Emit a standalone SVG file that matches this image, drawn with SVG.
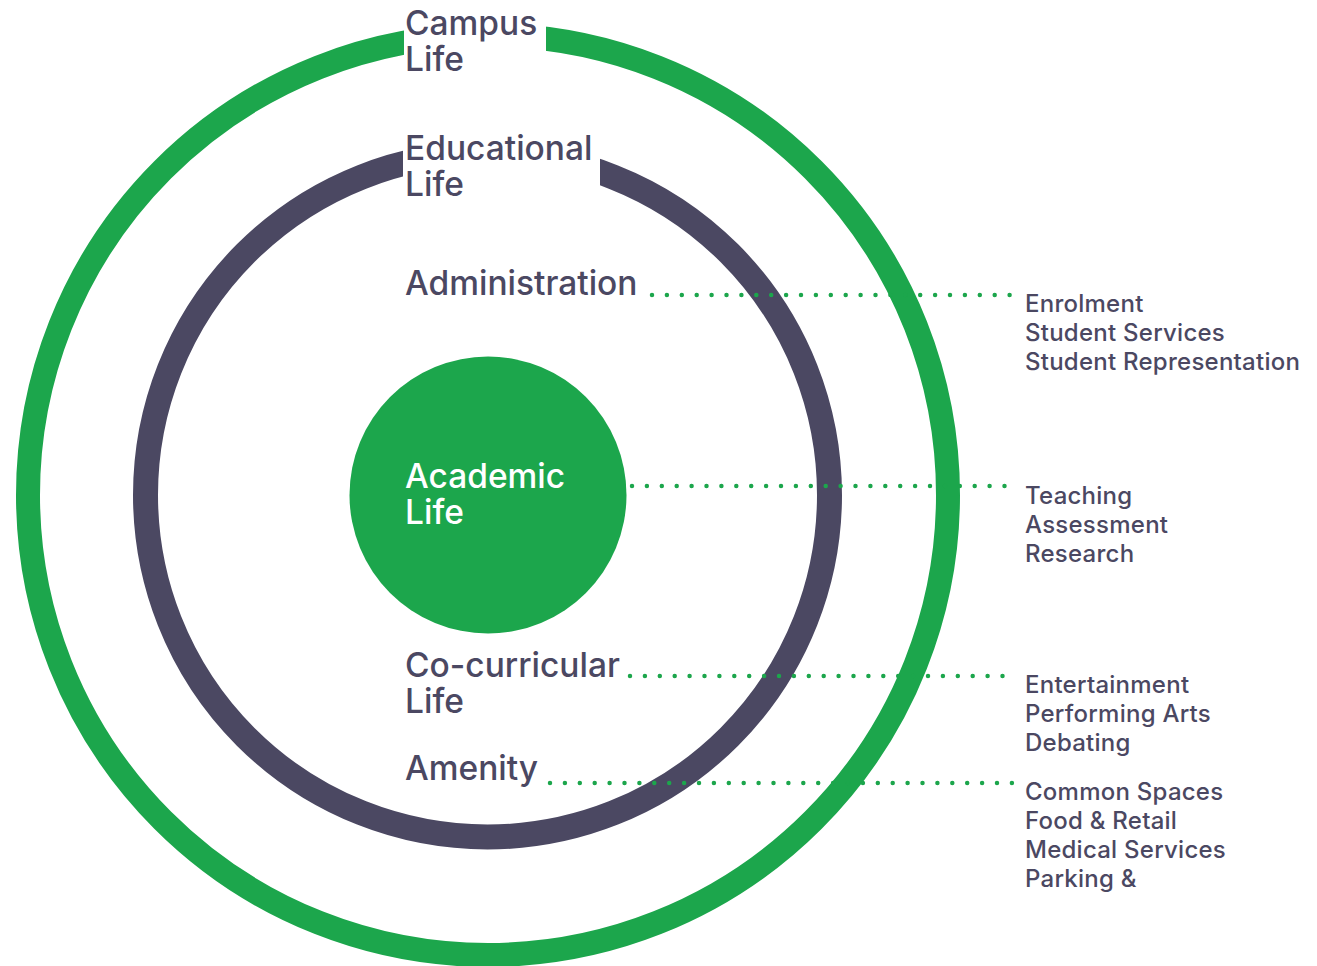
<svg xmlns="http://www.w3.org/2000/svg" width="1317" height="966" viewBox="0 0 1317 966">
<style>
.big{font-family:"Inter","Noto Sans",sans-serif;font-weight:500;font-size:33.5px;fill:#4b4862}
.white{fill:#ffffff}
.small{font-family:"Inter","Noto Sans",sans-serif;font-weight:500;font-size:24px;letter-spacing:0.25px;fill:#4b4862}
.dots{stroke:#1ca64c;stroke-width:4.5;stroke-linecap:round;stroke-dasharray:0 14.9;fill:none}
</style>
<rect width="1317" height="966" fill="#ffffff"/>
<g id="campus-life">
<circle cx="488" cy="495" r="460" fill="none" stroke="#1ca64c" stroke-width="24"/>
<rect x="404" y="0" width="142" height="90" fill="#ffffff"/>
<text class="big" x="405" y="35">Campus</text>
<text class="big" x="405" y="71">Life</text>
</g>
<g id="educational-life">
<circle cx="487.5" cy="495" r="342" fill="none" stroke="#4b4862" stroke-width="25"/>
<rect x="403" y="120" width="197" height="90" fill="#ffffff"/>
<text class="big" x="405" y="160">Educational</text>
<text class="big" x="405" y="196">Life</text>
</g>
<g id="academic-life">
<circle cx="488" cy="495" r="138.5" fill="#1ca64c"/>
<text class="big white" x="405" y="488">Academic</text>
<text class="big white" x="405" y="524">Life</text>
</g>
<g id="administration">
<text class="big" x="405" y="295">Administration</text>
</g>
<g id="co-curricular-life">
<text class="big" x="405" y="677">Co-curricular</text>
<text class="big" x="405" y="713">Life</text>
</g>
<g id="amenity">
<text class="big" x="405" y="780">Amenity</text>
</g>
<g id="connectors">
<line class="dots" x1="652" y1="295" x2="1014" y2="295"/>
<line class="dots" x1="632" y1="486" x2="1014" y2="486"/>
<line class="dots" x1="630" y1="676" x2="1014" y2="676"/>
<line class="dots" x1="550" y1="783" x2="1014" y2="783"/>
</g>
<g id="administration-items">
<text class="small" x="1025" y="312">Enrolment</text>
<text class="small" x="1025" y="341">Student Services</text>
<text class="small" x="1025" y="370">Student Representation</text>
</g>
<g id="academic-items">
<text class="small" x="1025" y="504">Teaching</text>
<text class="small" x="1025" y="533">Assessment</text>
<text class="small" x="1025" y="562">Research</text>
</g>
<g id="co-curricular-items">
<text class="small" x="1025" y="693">Entertainment</text>
<text class="small" x="1025" y="722">Performing Arts</text>
<text class="small" x="1025" y="751">Debating</text>
</g>
<g id="amenity-items">
<text class="small" x="1025" y="800">Common Spaces</text>
<text class="small" x="1025" y="829">Food &amp; Retail</text>
<text class="small" x="1025" y="858">Medical Services</text>
<text class="small" x="1025" y="887">Parking &amp;</text>
</g>
</svg>
